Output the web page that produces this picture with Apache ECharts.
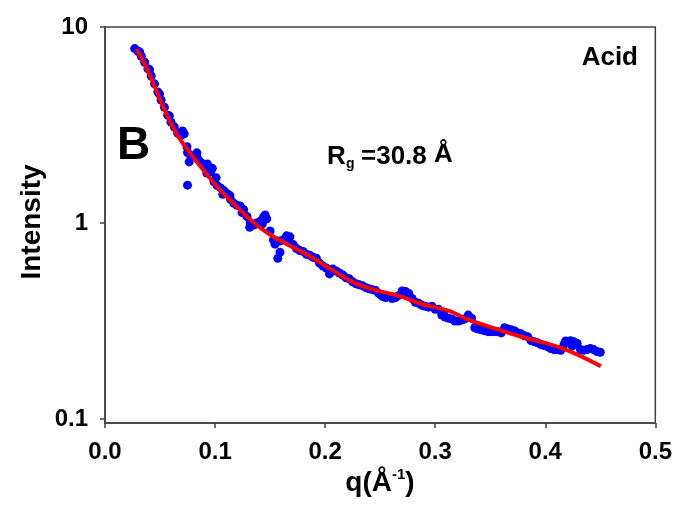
<!DOCTYPE html>
<html>
<head>
<meta charset="utf-8">
<script src="https://cdn.jsdelivr.net/npm/echarts@6/dist/echarts.min.js"></script>
<style>
html,body{margin:0;padding:0;background:#fff;}
#chart{width:675px;height:506px;}
</style>
</head>
<body>
<div id="chart"></div>
<script>
// Measured scattering data (q in 1/Å, intensity)
var qValues = [0.027,0.030,0.033,0.036,0.039,0.042,0.045,0.048,0.051,0.054,0.057,0.060,0.063,0.066,0.069,0.072,0.075,0.078,0.081,0.084,0.087,0.090,0.093,0.096,0.099,0.102,0.105,0.108,0.111,0.114,0.117,0.120,0.123,0.126,0.129,0.132,0.135,0.138,0.141,0.144,0.147,0.150,0.153,0.156,0.159,0.162,0.165,0.168,0.171,0.174,0.177,0.180,0.183,0.186,0.189,0.192,0.195,0.198,0.201,0.204,0.207,0.210,0.213,0.216,0.219,0.222,0.225,0.228,0.231,0.234,0.237,0.240,0.243,0.246,0.249,0.252,0.255,0.258,0.261,0.264,0.267,0.270,0.273,0.276,0.279,0.282,0.285,0.288,0.291,0.294,0.297,0.300,0.303,0.306,0.309,0.312,0.315,0.318,0.321,0.324,0.327,0.330,0.333,0.336,0.339,0.342,0.345,0.348,0.351,0.354,0.357,0.360,0.363,0.366,0.369,0.372,0.375,0.378,0.381,0.384,0.387,0.390,0.393,0.396,0.399,0.402,0.405,0.408,0.411,0.414,0.417,0.420,0.423,0.426,0.429,0.432,0.435,0.438,0.441,0.444,0.447,0.450];
var intensityValues = [7.76,7.52,7.08,6.61,6.12,5.62,5.13,4.66,4.24,3.89,3.55,3.27,3.09,2.88,2.79,2.85,2.29,2.19,2.21,2.14,2.04,1.95,2.00,1.82,1.62,1.55,1.51,1.46,1.41,1.32,1.26,1.23,1.22,1.17,1.08,1.00,0.977,1.00,1.02,1.07,1.05,0.91,0.82,0.81,0.81,0.82,0.86,0.85,0.776,0.741,0.724,0.716,0.692,0.684,0.668,0.661,0.624,0.603,0.589,0.55,0.582,0.569,0.556,0.543,0.525,0.519,0.501,0.490,0.484,0.479,0.468,0.462,0.457,0.452,0.436,0.422,0.417,0.422,0.412,0.417,0.427,0.45,0.447,0.437,0.412,0.394,0.389,0.380,0.376,0.372,0.376,0.363,0.363,0.339,0.331,0.327,0.324,0.316,0.316,0.320,0.324,0.339,0.327,0.292,0.288,0.285,0.282,0.279,0.279,0.279,0.279,0.275,0.292,0.288,0.285,0.282,0.275,0.272,0.266,0.263,0.251,0.248,0.245,0.240,0.237,0.234,0.229,0.226,0.226,0.224,0.240,0.248,0.251,0.248,0.243,0.226,0.224,0.226,0.229,0.226,0.221,0.219];
// Extra scattered points
var qExtra = [0.0315,0.0405,0.0495,0.0585,0.0705,0.0745,0.075,0.0765,0.0835,0.0925,0.0975,0.101,0.107,0.1135,0.1245,0.1315,0.143,0.1455,0.1545,0.157,0.159,0.1665,0.2045,0.2505,0.3075,0.3375,0.4185,0.4245];
var intensityExtra = [7.45,6.05,4.55,3.52,2.95,2.45,1.56,2.05,2.28,1.80,1.90,1.70,1.40,1.38,1.13,0.95,0.99,1.10,0.78,0.66,0.71,0.80,0.57,0.43,0.35,0.30,0.25,0.236];
// Fitted curve
var fitQ = [0.0286,0.0358,0.0449,0.0567,0.0676,0.0794,0.0885,0.1039,0.1193,0.1338,0.149,0.167,0.186,0.2064,0.231,0.252,0.2672,0.288,0.3126,0.3308,0.376,0.415,0.4505];
var fitI = [7.72,6.55,5.00,3.52,2.71,2.20,1.89,1.49,1.22,1.02,0.879,0.772,0.679,0.575,0.483,0.445,0.425,0.386,0.356,0.320,0.265,0.230,0.186];
// Axis ticks
var xTicks = [0, 0.1, 0.2, 0.3, 0.4, 0.5];
var yTicks = [0.1, 1, 10];

var FONT = "'Liberation Sans', Arial, sans-serif";
var AXIS_COLOR = '#404040';

function pairs(a, b) { return a.map(function (v, i) { return [v, b[i]]; }); }

var chart = echarts.init(document.getElementById('chart'));
chart.setOption({
  animation: false,
  backgroundColor: '#ffffff',
  grid: {
    left: 105, right: 18, top: 27, bottom: 83,
    show: true, borderColor: AXIS_COLOR, borderWidth: 1.5, backgroundColor: 'transparent'
  },
  xAxis: {
    type: 'value', min: xTicks[0], max: xTicks[xTicks.length - 1], interval: 0.1,
    axisLine: { show: true, lineStyle: { color: AXIS_COLOR, width: 1.5 } },
    axisTick: { show: true, inside: false, length: 5, lineStyle: { color: AXIS_COLOR, width: 1.5 } },
    splitLine: { show: false },
    axisLabel: {
      margin: 17, color: '#000', fontFamily: FONT, fontWeight: 'bold', fontSize: 24,
      formatter: function (v) { return v.toFixed(1); }
    }
  },
  yAxis: {
    type: 'log', min: 0.0954, max: 10, logBase: 10,
    axisLine: { show: true, lineStyle: { color: AXIS_COLOR, width: 1.5 } },
    axisTick: { show: true, inside: false, length: 5, customValues: yTicks, lineStyle: { color: AXIS_COLOR, width: 1.5 } },
    splitLine: { show: false },
    minorTick: { show: false },
    axisLabel: {
      customValues: yTicks,
      margin: 17, color: '#000', fontFamily: FONT, fontWeight: 'bold', fontSize: 24,
      formatter: function (v) { return String(+(+v).toPrecision(3)); }
    }
  },
  series: [
    {
      type: 'scatter', symbol: 'circle', symbolSize: 9,
      itemStyle: { color: '#0000FF', opacity: 1 },
      data: pairs(qValues, intensityValues).concat(pairs(qExtra, intensityExtra)),
      z: 2
    },
    {
      type: 'line', smooth: 0.4, showSymbol: false, symbol: 'none',
      lineStyle: { color: '#FF0000', width: 4 },
      data: pairs(fitQ, fitI),
      z: 3
    }
  ],
  graphic: [
    { type: 'text', x: 32, y: 222, rotation: Math.PI / 2,
      style: { text: 'Intensity', font: 'bold 28px ' + FONT, fill: '#000', textAlign: 'center', textVerticalAlign: 'middle' } },
    { type: 'text', x: 380, y: 482,
      style: {
        text: '{a|q(Å}{s|-1}{a|)}', textAlign: 'center', textVerticalAlign: 'middle',
        rich: {
          a: { fontFamily: FONT, fontWeight: 'bold', fontSize: 28, fill: '#000', color: '#000', lineHeight: 30, verticalAlign: 'bottom' },
          s: { fontFamily: FONT, fontWeight: 'bold', fontSize: 15, fill: '#000', color: '#000', lineHeight: 30, verticalAlign: 'top' }
        }
      } },
    { type: 'text', x: 117, y: 146,
      style: { text: 'B', font: 'bold 46px ' + FONT, fill: '#000', textAlign: 'left', textVerticalAlign: 'middle' } },
    { type: 'text', x: 638, y: 58,
      style: { text: 'Acid', font: 'bold 26px ' + FONT, fill: '#000', textAlign: 'right', textVerticalAlign: 'middle' } },
    { type: 'text', x: 327, y: 157,
      style: { text: 'R', font: 'bold 26px ' + FONT, fill: '#000', textAlign: 'left', textVerticalAlign: 'middle' } },
    { type: 'text', x: 346, y: 164,
      style: { text: 'g', font: 'bold 14px ' + FONT, fill: '#000', textAlign: 'left', textVerticalAlign: 'middle' } },
    { type: 'text', x: 361, y: 157,
      style: { text: '=30.8', font: 'bold 26px ' + FONT, fill: '#000', textAlign: 'left', textVerticalAlign: 'middle' } },
    { type: 'text', x: 434, y: 155,
      style: { text: 'Å', font: 'bold 26px ' + FONT, fill: '#000', textAlign: 'left', textVerticalAlign: 'middle' } }
  ]
});
</script>
</body>
</html>
